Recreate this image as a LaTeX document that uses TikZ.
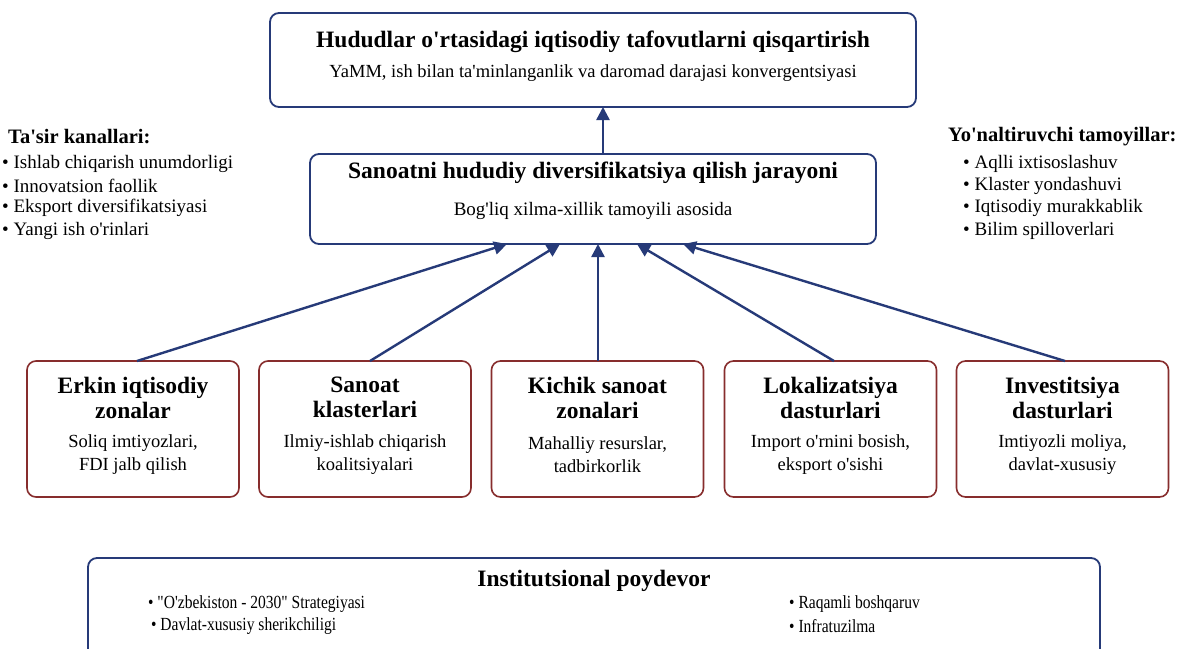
\documentclass[tikz,border=0pt]{standalone}
\usepackage{fontspec}
\setmainfont{Liberation Serif}[Ligatures=TeXOff]
\usetikzlibrary{calc,arrows.meta}
\definecolor{navy}{RGB}{38,58,120}
\definecolor{maroon}{RGB}{135,45,45}
\begin{document}
\begin{tikzpicture}[x=1pt,y=-1pt,
 navybox/.style={draw=navy,line width=1.8pt,rounded corners=9pt,fill=white,minimum width=#1,inner sep=0pt,outer sep=0pt},
 redbox/.style={draw=maroon,line width=1.6pt,rounded corners=9pt,minimum width=212pt,minimum height=136pt,inner sep=0pt,outer sep=0pt},
 conn/.style={draw=navy,line width=2.4pt,-{Triangle[length=13pt,width=13pt]}},
 ttl/.style={font=\fontsize{23.5}{25}\selectfont\bfseries,align=center,inner sep=0pt},
 sub/.style={font=\fontsize{18.5}{23}\selectfont,align=center,inner sep=0pt},
 side/.style={font=\fontsize{19}{20}\selectfont,anchor=west,inner sep=0pt},
 sidehead/.style={font=\fontsize{20.5}{22}\selectfont\bfseries,anchor=west,inner sep=0pt},
 foot/.style={font=\fontsize{18.5}{20}\selectfont,anchor=west,inner sep=0pt,xscale=0.84}
]
\clip (0,0) rectangle (1188,648);
\fill[white] (0,0) rectangle (1188,648);

% top box
\node[navybox=646pt,minimum height=94pt] (top) at (593,60) {};
\node[ttl] (topt) at (593,42) {Hududlar o'rtasidagi iqtisodiy tafovutlarni qisqartirish};
\node[sub] (tops) at (593,73) {YaMM, ish bilan ta'minlanganlik va daromad darajasi konvergentsiyasi};

% middle box
\node[navybox=566pt,minimum height=90pt] (mid) at (593,199) {};
\node[ttl] (midt) at (593,173) {Sanoatni hududiy diversifikatsiya qilish jarayoni};
\node[sub,font=\fontsize{19}{23}\selectfont] (mids) at (593,211) {Bog'liq xilma-xillik tamoyili asosida};

\draw[conn] ($(mid.north)+(10,0)$) -- ($(top.south)+(10,0)$);

% side texts
\node[sidehead] (lh) at (8,137) {Ta'sir kanallari:};
\node[side] (l1) at (2,164) {• Ishlab chiqarish unumdorligi};
\node[side] (l2) at (2,186) {• Innovatsion faollik};
\node[side] (l3) at (2,208) {• Eksport diversifikatsiyasi};
\node[side] (l4) at (2,231) {• Yangi ish o'rinlari};

\node[sidehead] (rh) at (948,137) {Yo'naltiruvchi tamoyillar:};
\node[side] (r1) at (963,164) {• Aqlli ixtisoslashuv};
\node[side] (r2) at (963,186) {• Klaster yondashuvi};
\node[side] (r3) at (963,208) {• Iqtisodiy murakkablik};
\node[side] (r4) at (963,231) {• Bilim spilloverlari};

% bottom boxes
\foreach \n/\x/\t/\s in {
  b1/133/{Erkin iqtisodiy\\zonalar}/{Soliq imtiyozlari,\\FDI jalb qilish},
  b2/365/{Sanoat\\klasterlari}/{Ilmiy-ishlab chiqarish\\koalitsiyalari},
  b3/597.5/{Kichik sanoat\\zonalari}/{Mahalliy resurslar,\\tadbirkorlik},
  b4/830.5/{Lokalizatsiya\\dasturlari}/{Import o'rnini bosish,\\eksport o'sishi},
  b5/1062.5/{Investitsiya\\dasturlari}/{Imtiyozli moliya,\\davlat-xususiy}}{
  \node[redbox] (\n) at (\x,429) {};
  \node[ttl] (\n t) at (\x,397.5) {\t};
  \node[sub] (\n s) at (\x,454.5) {\s};
}

\draw[conn] ($(b1.north)+(4,0)$) -- ($(mid.south)+(-86,0)$);
\draw[conn] ($(b2.north)+(5,0)$) -- ($(mid.south)+(-33,0)$);
\draw[conn] ($(b3.north)+(0.5,0)$) -- ($(mid.south)+(5,0)$);
\draw[conn] ($(b4.north)+(3.5,0)$) -- ($(mid.south)+(44,0)$);
\draw[conn] ($(b5.north)+(2.5,0)$) -- ($(mid.south)+(90,0)$);

% bottom box
\node[navybox=1012pt,minimum height=110pt,anchor=north] (inst) at (594,558) {};
\node[ttl] (instt) at (594,581) {Institutsional poydevor};
\node[foot] (f1) at (148,604) {• "O'zbekiston - 2030" Strategiyasi};
\node[foot] (f2) at (151,626) {• Davlat-xususiy sherikchiligi};
\node[foot] (f3) at (789,604) {• Raqamli boshqaruv};
\node[foot] (f4) at (789,626) {• Infratuzilma};
\end{tikzpicture}
\end{document}
